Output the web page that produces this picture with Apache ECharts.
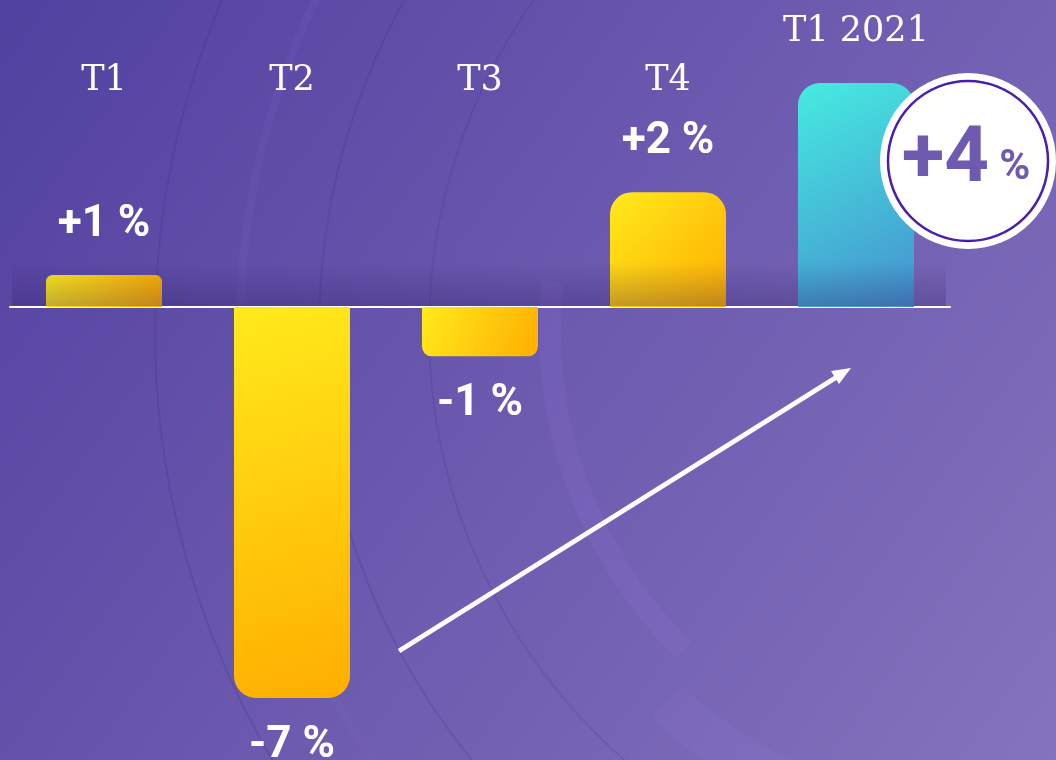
<!DOCTYPE html>
<html>
<head>
<meta charset="utf-8">
<script src="https://cdn.jsdelivr.net/npm/echarts@6/dist/echarts.min.js"></script>
<style>
html,body{margin:0;padding:0;background:#6a58ae;}
#chart{width:1056px;height:760px;}
</style>
</head>
<body>
<div id="chart"></div>
<script>
var categories = ['T1', 'T2', 'T3', 'T4', 'T1 2021'];
var barValues = [0.57, -6.98, -0.88, 2.05, 4];
var valueLabels = ['+1', '-7', '-1', '+2', '+4'];

var yellow = {
	type: 'linear', x: 0, y: 0, x2: 1, y2: 1,
	colorStops: [{offset: 0, color: '#ffea1c'}, {offset: 1, color: '#ffae00'}]
};
var cyan = {
	type: 'linear', x: 0, y: 0, x2: 1, y2: 1,
	colorStops: [{offset: 0, color: '#45ece0'}, {offset: 1, color: '#4690cf'}]
};

var barData = [];
for (var i = 0; i < barValues.length; i++) {
	var v = barValues[i];
	var r = Math.min(22, Math.abs(v) * 11);
	var last = i == barValues.length - 1;
	barData[i] = {
		value: v,
		itemStyle: {
			color: last ? cyan : yellow,
			borderRadius: v >= 0 ? [r, r, 0, 0] : [0, 0, r, r]
		},
		label: {
			position: v >= 0 ? 'top' : 'bottom',
			distance: last ? 34 : (v >= 0 ? 28 : 26)
		}
	};
}

var dom = document.getElementById('chart');
var myChart = echarts.init(dom);
var option = {
	backgroundColor: 'transparent',
	animation: false,
	grid: {left: 10, right: 106, top: 83, bottom: 61},
	xAxis: [
		{
			type: 'category',
			data: categories,
			position: 'top',
			axisLine: {show: false, onZero: false},
			axisTick: {show: false},
			axisLabel: {
				margin: 2,
				verticalAlign: 'middle',
				color: '#fff',
				fontFamily: 'DejaVu Serif',
				fontSize: 35,
				formatter: function (val, idx) {
					return idx == categories.length - 1 ? '' : val;
				}
			}
		},
		{
			type: 'category',
			data: categories,
			position: 'bottom',
			axisLine: {show: true, onZero: true, lineStyle: {color: '#fff', width: 2}},
			axisTick: {show: false},
			axisLabel: {show: false}
		}
	],
	yAxis: {
		type: 'value',
		min: -7,
		max: 4,
		show: false,
		splitLine: {show: false}
	},
	graphic: [
		{
			type: 'rect', z: -100,
			shape: {x: 0, y: 0, width: 1056, height: 760},
			style: {
				fill: {
					type: 'linear', x: 0, y: 0, x2: 1, y2: 1,
					colorStops: [{offset: 0, color: '#5141a0'}, {offset: 1, color: '#8573bd'}]
				}
			}
		},
		// faint rings of the backdrop
		{type: 'circle', z: -90, shape: {cx: 1000, cy: 330, r: 845}, style: {fill: 'none', stroke: 'rgba(60,40,140,0.2)', lineWidth: 2}},
		{type: 'circle', z: -90, shape: {cx: 1000, cy: 330, r: 760}, style: {fill: 'none', stroke: 'rgba(140,110,210,0.12)', lineWidth: 8}},
		{type: 'circle', z: -90, shape: {cx: 1000, cy: 330, r: 681}, style: {fill: 'none', stroke: 'rgba(60,40,140,0.18)', lineWidth: 2}},
		{type: 'circle', z: -90, shape: {cx: 1000, cy: 330, r: 571}, style: {fill: 'none', stroke: 'rgba(60,40,140,0.15)', lineWidth: 2}},
		{type: 'arc', z: -90, shape: {cx: 1000, cy: 330, r: 450, startAngle: 2.35, endAngle: 3.25}, style: {fill: 'none', stroke: 'rgba(150,120,220,0.16)', lineWidth: 22}},
		{type: 'arc', z: -90, shape: {cx: 1000, cy: 330, r: 500, startAngle: 1.75, endAngle: 2.3}, style: {fill: 'none', stroke: 'rgba(150,120,220,0.13)', lineWidth: 44}},
		// shadow just above the zero line
		{
			type: 'rect', z: 50,
			shape: {x: 12, y: 262, width: 934, height: 44},
			style: {
				fill: {
					type: 'linear', x: 0, y: 0, x2: 0, y2: 1,
					colorStops: [{offset: 0, color: 'rgba(40,25,90,0)'}, {offset: 1, color: 'rgba(40,25,90,0.28)'}]
				}
			}
		},
		// rising arrow
		{type: 'line', z: 60, shape: {x1: 399, y1: 651, x2: 840, y2: 375}, style: {stroke: '#fff', lineWidth: 5}},
		{type: 'polygon', z: 60, shape: {points: [[851, 368], [839, 384], [831, 371]]}, style: {fill: '#fff'}},
		// badge
		{type: 'circle', z: 60, shape: {cx: 968, cy: 161, r: 88}, style: {fill: '#fff'}},
		{type: 'circle', z: 61, shape: {cx: 968, cy: 161, r: 80}, style: {fill: 'none', stroke: '#4a1fae', lineWidth: 2.5}},
		{
			type: 'text', z: 62, x: 966, y: 161,
			style: {
				text: '{a|' + valueLabels[4] + '}{b| %}',
				align: 'center', verticalAlign: 'middle',
				rich: {
					a: {fontFamily: 'Roboto', fontWeight: 'bold', fontSize: 78, fill: '#6e5aae', color: '#6e5aae'},
					b: {fontFamily: 'Roboto', fontWeight: 'bold', fontSize: 42, fill: '#6e5aae', color: '#6e5aae', padding: [14, 0, 0, 0]}
				}
			}
		}
	],
	series: [
		{
			type: 'bar',
			xAxisIndex: 0,
			barWidth: 116,
			data: barData,
			label: {
				show: true,
				formatter: function (p) {
					if (p.dataIndex == categories.length - 1) return '{c|' + categories[p.dataIndex] + '}';
					return '{v|' + valueLabels[p.dataIndex] + ' %}';
				},
				rich: {
					v: {fontFamily: 'Roboto', fontWeight: 'bold', fontSize: 44, color: '#fff', lineHeight: 44},
					c: {fontFamily: 'DejaVu Serif', fontSize: 35, color: '#fff', lineHeight: 35}
				}
			}
		}
	]
};
if (option && typeof option === "object") {
	myChart.setOption(option, true);
}
</script>
</body>
</html>
